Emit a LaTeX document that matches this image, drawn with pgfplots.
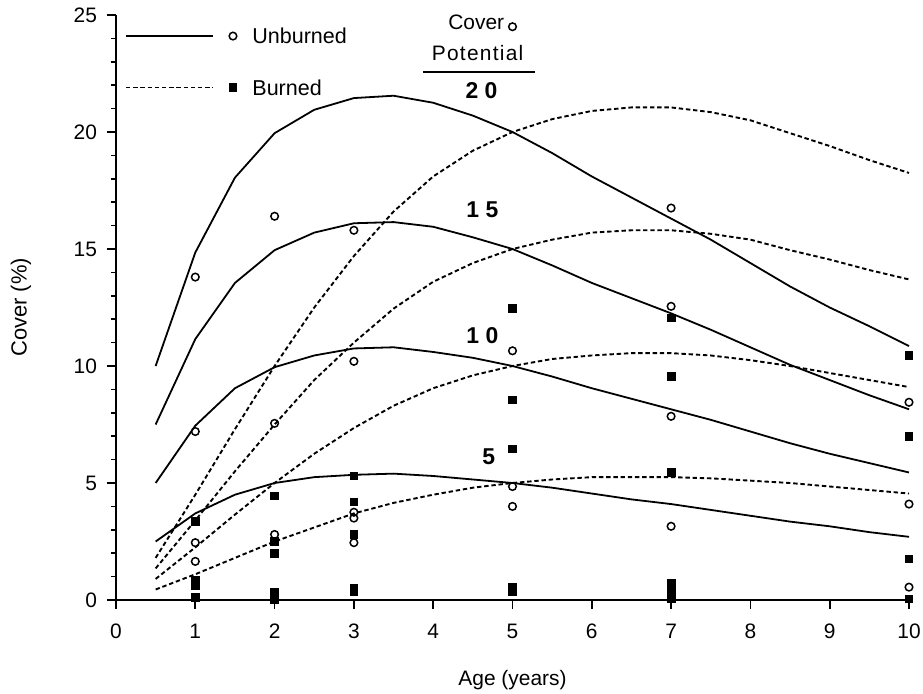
\documentclass[border=0pt]{standalone}
\usepackage{fontspec}
\setmainfont{Liberation Sans}
\usepackage{pgfplots}
\pgfplotsset{compat=1.18}
\usetikzlibrary{calc}

\begin{document}
\begin{tikzpicture}
\begin{axis}[
  scale only axis, width=396.5bp, height=292.5bp,
  xmin=0, xmax=10, ymin=0, ymax=25,
  axis lines=left, axis line style={-, line width=1bp},
  xtick={0,...,10}, ytick={0,5,...,25}, minor y tick num=4,
  tick align=outside, major tick length=4.5bp, minor tick length=2.5bp,
  tick style={line width=0.8bp, black},
  font=\fontsize{10.5}{12}\selectfont,
  tick label style={font=\fontsize{10.5}{12}\selectfont},
  x tick label style={yshift=-4bp},
  y tick label style={xshift=-1.5bp},
  /pgf/number format/assume math mode=true,
  xlabel={Age (years)}, ylabel={Cover (\%)},
  every axis x label/.style={at={(rel axis cs:0.5,0)}, yshift=-40bp, anchor=center},
  every axis y label/.style={at={(rel axis cs:0,0.5)}, xshift=-47.5bp, rotate=90, anchor=center, font=\fontsize{11}{12}\selectfont},
  clip=false,
]
\coordinate (bl) at (rel axis cs:0,0);
\coordinate (tr) at (rel axis cs:1,1);

% unburned fits (solid), cover potential 20, 15, 10, 5
\addplot[black, line width=0.9bp] coordinates {
 (0.5,10.0) (1,14.85) (1.5,18.05) (2,19.95) (2.5,20.95) (3,21.45) (3.5,21.55) (4,21.25) (4.5,20.7) (5,20.0)
 (5.5,19.1) (6,18.1) (6.5,17.2) (7,16.3) (7.5,15.4) (8,14.4) (8.5,13.4) (9,12.5) (9.5,11.7) (10,10.85)};
\addplot[black, line width=0.9bp] coordinates {
 (0.5,7.5) (1,11.15) (1.5,13.55) (2,14.95) (2.5,15.7) (3,16.1) (3.5,16.15) (4,15.95) (4.5,15.5) (5,15.0)
 (5.5,14.3) (6,13.55) (6.5,12.9) (7,12.25) (7.5,11.55) (8,10.8) (8.5,10.05) (9,9.4) (9.5,8.75) (10,8.15)};
\addplot[black, line width=0.9bp] coordinates {
 (0.5,5.0) (1,7.45) (1.5,9.05) (2,9.95) (2.5,10.45) (3,10.75) (3.5,10.8) (4,10.6) (4.5,10.35) (5,10.0)
 (5.5,9.55) (6,9.05) (6.5,8.6) (7,8.15) (7.5,7.7) (8,7.2) (8.5,6.7) (9,6.25) (9.5,5.85) (10,5.45)};
\addplot[black, line width=0.9bp] coordinates {
 (0.5,2.5) (1,3.7) (1.5,4.5) (2,5.0) (2.5,5.25) (3,5.35) (3.5,5.4) (4,5.3) (4.5,5.15) (5,5.0)
 (5.5,4.8) (6,4.55) (6.5,4.3) (7,4.1) (7.5,3.85) (8,3.6) (8.5,3.35) (9,3.15) (9.5,2.9) (10,2.7)};

% burned fits (dashed)
\addplot[black, line width=0.95bp, dash pattern=on 2.2bp off 1.4bp] coordinates {
 (0.5,1.8) (1,4.5) (1.5,7.3) (2,10.0) (2.5,12.5) (3,14.7) (3.5,16.6) (4,18.1) (4.5,19.2) (5,20.0)
 (5.5,20.55) (6,20.9) (6.5,21.05) (7,21.05) (7.5,20.85) (8,20.5) (8.5,19.95) (9,19.4) (9.5,18.8) (10,18.25)};
\addplot[black, line width=0.95bp, dash pattern=on 2.2bp off 1.4bp] coordinates {
 (0.5,1.35) (1,3.4) (1.5,5.5) (2,7.5) (2.5,9.4) (3,11.0) (3.5,12.45) (4,13.6) (4.5,14.4) (5,15.0)
 (5.5,15.4) (6,15.7) (6.5,15.8) (7,15.8) (7.5,15.65) (8,15.4) (8.5,14.95) (9,14.55) (9.5,14.1) (10,13.7)};
\addplot[black, line width=0.95bp, dash pattern=on 2.2bp off 1.4bp] coordinates {
 (0.5,0.9) (1,2.25) (1.5,3.65) (2,5.0) (2.5,6.25) (3,7.35) (3.5,8.3) (4,9.05) (4.5,9.6) (5,10.0)
 (5.5,10.3) (6,10.45) (6.5,10.55) (7,10.55) (7.5,10.45) (8,10.25) (8.5,10.0) (9,9.7) (9.5,9.4) (10,9.1)};
\addplot[black, line width=0.95bp, dash pattern=on 2.2bp off 1.4bp] coordinates {
 (0.5,0.45) (1,1.1) (1.5,1.8) (2,2.5) (2.5,3.1) (3,3.7) (3.5,4.15) (4,4.5) (4.5,4.8) (5,5.0)
 (5.5,5.15) (6,5.25) (6.5,5.25) (7,5.25) (7.5,5.2) (8,5.1) (8.5,5.0) (9,4.85) (9.5,4.7) (10,4.55)};

% observed cover
\addplot[only marks, mark=o, mark size=1.9bp, mark options={line width=0.75bp, black}] coordinates {
 (1,13.8) (1,7.2) (1,2.45) (1,1.65)
 (2,16.4) (2,7.55) (2,2.8)
 (3,15.8) (3,10.2) (3,3.75) (3,3.5) (3,2.45)
 (5,24.5) (5,10.65) (5,4.85) (5,4.0)
 (7,16.75) (7,12.55) (7,7.85) (7,3.15)
 (10,8.45) (10,4.1) (10,0.55)};
\addplot[only marks, mark=square*, mark size=1.9bp, black] coordinates {
 (1,3.35) (1,0.85) (1,0.6) (1,0.1)
 (2,4.45) (2,2.5) (2,2.0) (2,0.35) (2,0.15) (2,0.0)
 (3,5.3) (3,4.2) (3,2.8) (3,0.5) (3,0.35)
 (5,12.45) (5,8.55) (5,6.45) (5,0.55) (5,0.35)
 (7,12.05) (7,9.55) (7,5.45) (7,0.7) (7,0.45) (7,0.2) (7,0.05)
 (10,10.45) (10,7.0) (10,1.75) (10,0.05)};

% legend
\addplot[black, line width=0.9bp] coordinates {(0.126,24.1) (1.223,24.1)};
\addplot[only marks, mark=o, mark size=1.9bp, mark options={line width=0.75bp, black}] coordinates {(1.475,24.1)};
\node[anchor=west, inner sep=0pt, font=\fontsize{10.8}{12}\selectfont] at (axis cs:1.715,24.1) {Unburned};
\addplot[black, line width=0.95bp, dash pattern=on 2.2bp off 1.4bp] coordinates {(0.126,21.9) (1.223,21.9)};
\addplot[only marks, mark=square*, mark size=1.9bp, black] coordinates {(1.475,21.9)};
\node[anchor=west, inner sep=0pt, font=\fontsize{10.8}{12}\selectfont] at (axis cs:1.715,21.9) {Burned};

% cover potential labels
\node[anchor=east, inner sep=0pt, font=\fontsize{10.5}{12}\selectfont] at (axis cs:4.90,24.68) {Cover};
\node[font=\fontsize{10.5}{12}\selectfont\addfontfeature{LetterSpace=6}] at (axis cs:4.56,23.38) {Potential};
\draw[line width=1bp] (axis cs:3.87,22.56) -- (axis cs:5.28,22.56);
\node[font=\fontsize{11.5}{12}\selectfont\bfseries] at (axis cs:4.61,21.75) {2 0};
\node[font=\fontsize{11.5}{12}\selectfont\bfseries] at (axis cs:4.62,16.67) {1 5};
\node[font=\fontsize{11.5}{12}\selectfont\bfseries] at (axis cs:4.62,11.32) {1 0};
\node[font=\fontsize{11.5}{12}\selectfont\bfseries] at (axis cs:4.70,6.12) {5};
\end{axis}
\pgfresetboundingbox
\useasboundingbox ($(bl)+(-58bp,-47bp)$) rectangle ($(tr)+(7bp,7.5bp)$);
\end{tikzpicture}
\end{document}
